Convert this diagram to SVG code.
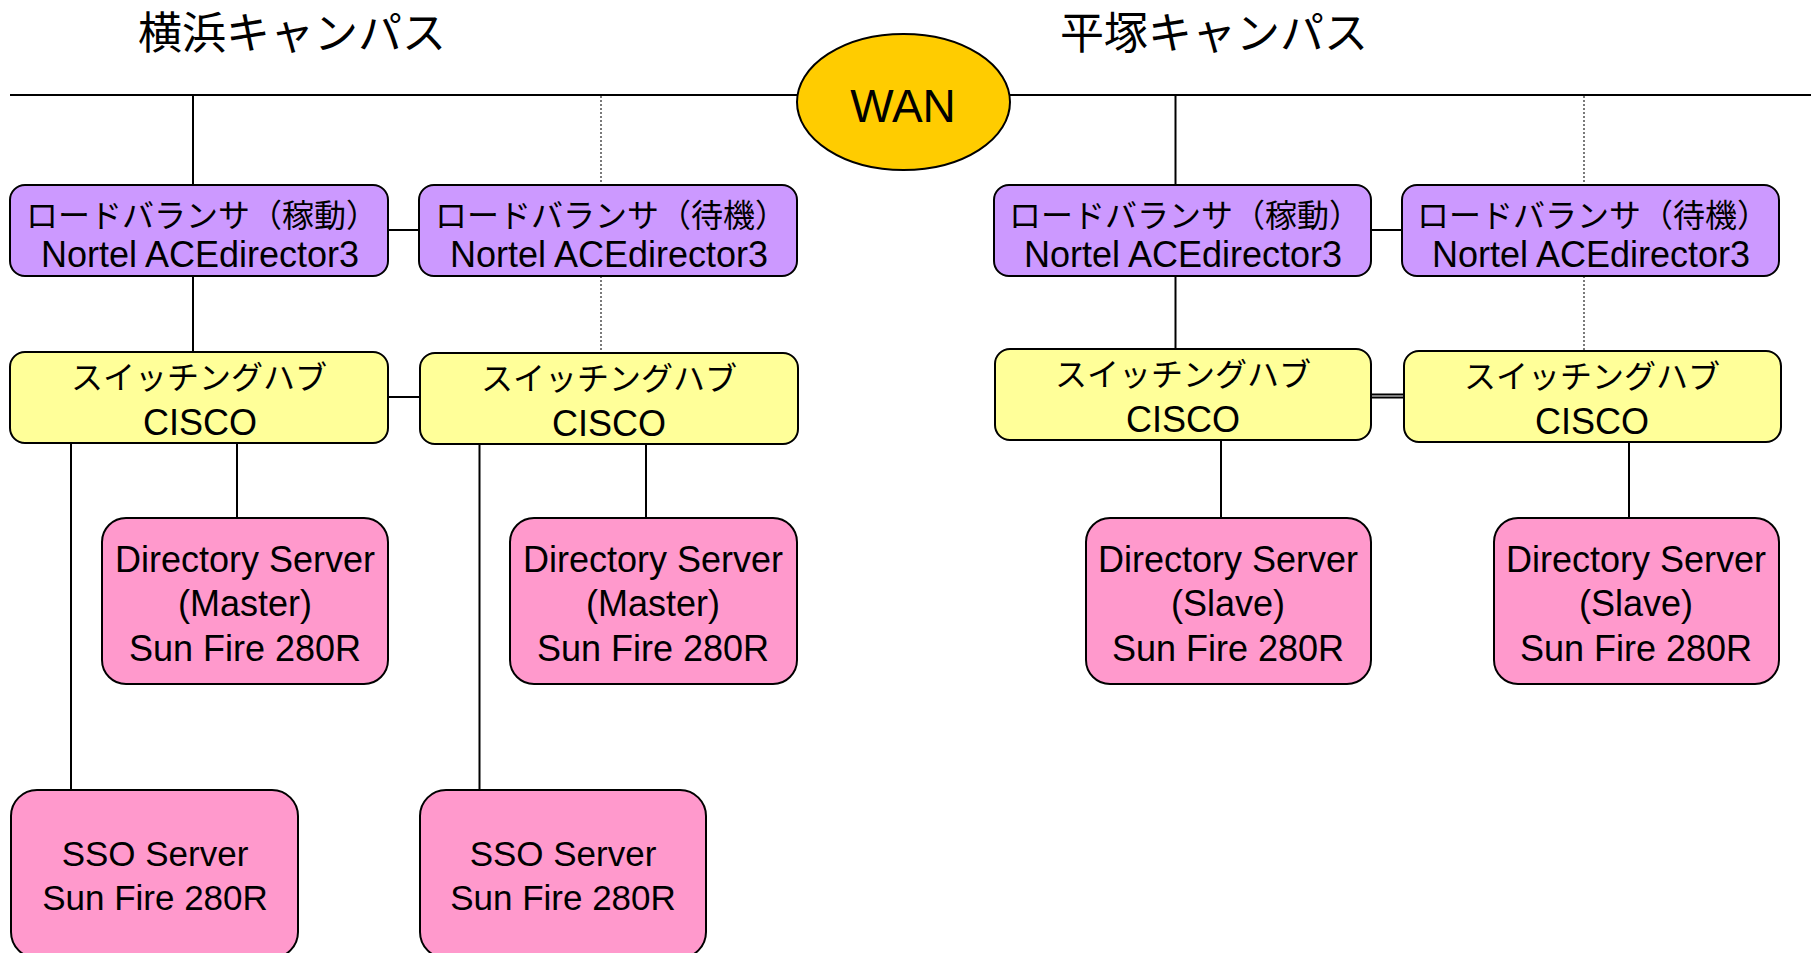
<svg xmlns="http://www.w3.org/2000/svg" width="1816" height="953" viewBox="0 0 1816 953">
<style>
.bg{fill:#ffffff}
.lb{fill:#CC99FF;stroke:#000;stroke-width:2}
.sw{fill:#FFFF99;stroke:#000;stroke-width:2}
.sv{fill:#FF99CC;stroke:#000;stroke-width:2}
.wan{fill:#FFCC00;stroke:#000;stroke-width:2}
.ln{stroke:#000;stroke-width:2;fill:none}
.dot{stroke:#333;stroke-width:1.3;stroke-dasharray:2 2;fill:none}
.jp{font-family:"Noto Sans CJK JP","Noto Sans",sans-serif;font-size:32px;fill:#000;text-anchor:middle}
.en{font-family:"Liberation Sans",Arial,sans-serif;font-size:36px;fill:#000;text-anchor:middle}
.ttl{font-family:"Noto Sans CJK JP","Noto Sans",sans-serif;font-size:44px;fill:#000;text-anchor:middle}
</style>
<rect class="bg" x="0" y="0" width="1816" height="953"/>
<g id="titles">
<text class="ttl" x="292" y="49">横浜キャンパス</text>
<text class="ttl" x="1214" y="49">平塚キャンパス</text>
</g>
<g id="connectors">
<line class="ln" x1="10" y1="95" x2="798" y2="95"/>
<line class="ln" x1="1009" y1="95" x2="1811" y2="95"/>
<line class="ln" x1="193" y1="95" x2="193" y2="185"/>
<line class="ln" x1="193" y1="276" x2="193" y2="352"/>
<line class="dot" x1="601" y1="96" x2="601" y2="185"/>
<line class="dot" x1="601" y1="276" x2="601" y2="353"/>
<line class="ln" x1="388" y1="230" x2="419" y2="230"/>
<line class="ln" x1="388" y1="397" x2="420" y2="397"/>
<line class="ln" x1="71" y1="443" x2="71" y2="790"/>
<line class="ln" x1="237" y1="443" x2="237" y2="518"/>
<line class="ln" x1="479.5" y1="444" x2="479.5" y2="790"/>
<line class="ln" x1="646" y1="444" x2="646" y2="518"/>
<line class="ln" x1="1175.5" y1="95" x2="1175.5" y2="185"/>
<line class="ln" x1="1175.5" y1="276" x2="1175.5" y2="349"/>
<line class="dot" x1="1584" y1="96" x2="1584" y2="185"/>
<line class="dot" x1="1584" y1="276" x2="1584" y2="351"/>
<line class="ln" x1="1371" y1="230" x2="1402" y2="230"/>
<line class="ln" x1="1371" y1="394.5" x2="1404" y2="394.5"/>
<line class="ln" x1="1371" y1="397.5" x2="1404" y2="397.5"/>
<line class="ln" x1="1221" y1="440" x2="1221" y2="518"/>
<line class="ln" x1="1629" y1="442" x2="1629" y2="518"/>
</g>
<g id="wan">
<ellipse class="wan" cx="903.5" cy="102" rx="106.5" ry="68"/>
<text class="en" x="903" y="122" style="font-size:46px">WAN</text>
</g>
<g id="lb1">
<rect class="lb" x="10" y="185" width="378" height="91" rx="15"/>
<text class="jp" x="202" y="227">ロードバランサ（稼動）</text>
<text class="en" x="200" y="267">Nortel ACEdirector3</text>
</g>
<g id="lb2">
<rect class="lb" x="419" y="185" width="378" height="91" rx="15"/>
<text class="jp" x="611" y="227">ロードバランサ（待機）</text>
<text class="en" x="609" y="267">Nortel ACEdirector3</text>
</g>
<g id="lb3">
<rect class="lb" x="994" y="185" width="377" height="91" rx="15"/>
<text class="jp" x="1185" y="227">ロードバランサ（稼動）</text>
<text class="en" x="1183" y="267">Nortel ACEdirector3</text>
</g>
<g id="lb4">
<rect class="lb" x="1402" y="185" width="377" height="91" rx="15"/>
<text class="jp" x="1593" y="227">ロードバランサ（待機）</text>
<text class="en" x="1591" y="267">Nortel ACEdirector3</text>
</g>
<g id="sw1">
<rect class="sw" x="10" y="352" width="378" height="91" rx="15"/>
<text class="jp" x="199" y="389">スイッチングハブ</text>
<text class="en" x="200" y="435">CISCO</text>
</g>
<g id="sw2">
<rect class="sw" x="420" y="353" width="378" height="91" rx="15"/>
<text class="jp" x="609" y="390">スイッチングハブ</text>
<text class="en" x="609" y="436">CISCO</text>
</g>
<g id="sw3">
<rect class="sw" x="995" y="349" width="376" height="91" rx="15"/>
<text class="jp" x="1183" y="386">スイッチングハブ</text>
<text class="en" x="1183" y="432">CISCO</text>
</g>
<g id="sw4">
<rect class="sw" x="1404" y="351" width="377" height="91" rx="15"/>
<text class="jp" x="1592" y="388">スイッチングハブ</text>
<text class="en" x="1592" y="434">CISCO</text>
</g>
<g id="ds1">
<rect class="sv" x="102" y="518" width="286" height="166" rx="24"/>
<text class="en" x="245" y="572">Directory Server</text>
<text class="en" x="245" y="616">(Master)</text>
<text class="en" x="245" y="661">Sun Fire 280R</text>
</g>
<g id="ds2">
<rect class="sv" x="510" y="518" width="287" height="166" rx="24"/>
<text class="en" x="653" y="572">Directory Server</text>
<text class="en" x="653" y="616">(Master)</text>
<text class="en" x="653" y="661">Sun Fire 280R</text>
</g>
<g id="ds3">
<rect class="sv" x="1086" y="518" width="285" height="166" rx="24"/>
<text class="en" x="1228" y="572">Directory Server</text>
<text class="en" x="1228" y="616">(Slave)</text>
<text class="en" x="1228" y="661">Sun Fire 280R</text>
</g>
<g id="ds4">
<rect class="sv" x="1494" y="518" width="285" height="166" rx="24"/>
<text class="en" x="1636" y="572">Directory Server</text>
<text class="en" x="1636" y="616">(Slave)</text>
<text class="en" x="1636" y="661">Sun Fire 280R</text>
</g>
<g id="sso1">
<rect class="sv" x="11" y="790" width="287" height="168" rx="26"/>
<text class="en" x="155" y="866" style="font-size:35px">SSO Server</text>
<text class="en" x="155" y="910" style="font-size:35px">Sun Fire 280R</text>
</g>
<g id="sso2">
<rect class="sv" x="420" y="790" width="286" height="168" rx="26"/>
<text class="en" x="563" y="866" style="font-size:35px">SSO Server</text>
<text class="en" x="563" y="910" style="font-size:35px">Sun Fire 280R</text>
</g>
</svg>
